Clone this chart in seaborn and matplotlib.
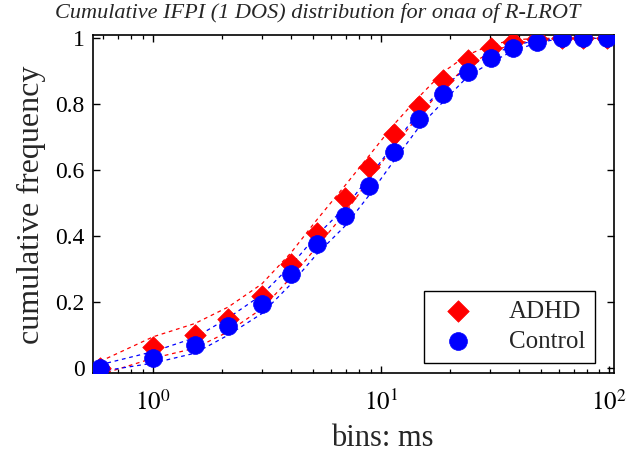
import numpy as np
import pandas as pd
import matplotlib
matplotlib.use("Agg")
import matplotlib.pyplot as plt
from matplotlib.ticker import LogLocator, NullFormatter, FixedLocator
import seaborn as sns

# Bin centres (ms) and cumulative frequencies per group
bins_ms = [0.584, 1.0, 1.52, 2.13, 2.99, 4.02, 5.22, 6.96, 8.86, 11.4,
           14.6, 18.7, 23.9, 30.4, 37.9, 48.1, 61.8, 76.7, 97.5]

adhd_mean = [0.0, 0.065, 0.100, 0.150, 0.220, 0.315, 0.410, 0.515, 0.610, 0.710,
             0.795, 0.875, 0.935, 0.970, 0.990, 0.998, 1.0, 1.0, 1.0]
adhd_upper = [0.020, 0.095, 0.135, 0.185, 0.255, 0.350, 0.450, 0.555, 0.645, 0.740,
              0.822, 0.898, 0.950, 0.980, 0.995, 1.0, 1.0, 1.0, 1.0]
adhd_lower = [-0.020, 0.030, 0.060, 0.110, 0.180, 0.275, 0.368, 0.472, 0.572, 0.675,
              0.765, 0.850, 0.918, 0.958, 0.984, 0.995, 1.0, 1.0, 1.0]

control_mean = [0.0, 0.031, 0.070, 0.127, 0.194, 0.285, 0.376, 0.461, 0.552, 0.655,
                0.754, 0.830, 0.899, 0.939, 0.970, 0.990, 1.0, 1.0, 1.0]
control_upper = [0.010, 0.050, 0.092, 0.152, 0.222, 0.312, 0.403, 0.488, 0.580, 0.680,
                 0.776, 0.850, 0.913, 0.950, 0.978, 0.994, 1.0, 1.0, 1.0]
control_lower = [-0.010, 0.015, 0.045, 0.100, 0.165, 0.255, 0.346, 0.432, 0.525, 0.630,
                 0.730, 0.808, 0.884, 0.928, 0.962, 0.986, 1.0, 1.0, 1.0]

groups = ["ADHD", "Control"]
colors = {"ADHD": "#ff0000", "Control": "#0000ff"}
markers = {"ADHD": "D", "Control": "o"}

title_text = "Cumulative IFPI (1 DOS) distribution for onaa of R-LROT"
x_label = "bins: ms"
y_label = "cumulative frequency"

means = pd.DataFrame({
    "bin": bins_ms * 2,
    "freq": adhd_mean + control_mean,
    "group": ["ADHD"] * len(bins_ms) + ["Control"] * len(bins_ms),
})
bounds = pd.DataFrame({
    "bin": bins_ms * 4,
    "freq": adhd_upper + adhd_lower + control_upper + control_lower,
    "curve": (["ADHD upper"] * len(bins_ms) + ["ADHD lower"] * len(bins_ms)
              + ["Control upper"] * len(bins_ms) + ["Control lower"] * len(bins_ms)),
})

sns.set_style("ticks")
plt.rcParams["font.family"] = ["Liberation Serif", "DejaVu Serif"]
plt.rcParams["mathtext.fontset"] = "stix"

fig = plt.figure(figsize=(6.26, 4.55), dpi=100)
ax = fig.add_axes([0.1486, 0.1802, 0.8325, 0.7428])

# dashed bound curves
for curve, sub in bounds.groupby("curve", sort=False):
    g = curve.split()[0]
    sns.lineplot(data=sub, x="bin", y="freq", ax=ax, color=colors[g],
                 linewidth=0.9, legend=False, zorder=2,
                 sort=False, estimator=None)
for line in ax.get_lines():
    line.set_dashes((3, 3))

# group markers, Control drawn on top
handles = {}
for g in groups:
    sub = means[means["group"] == g]
    size = 120 if g == "ADHD" else 165
    sns.scatterplot(data=sub, x="bin", y="freq", ax=ax, color=colors[g],
                    marker=markers[g], s=size, edgecolor=colors[g],
                    linewidth=0.5, legend=False, zorder=3)
    handles[g] = ax.collections[-1]

ax.set_xscale("log")
ax.set_xlim(0.544, 105)
ax.set_ylim(-0.015, 1.01)
ax.xaxis.set_major_locator(FixedLocator([1, 10, 100]))
ax.set_xticklabels([r"$10^{0}$", r"$10^{1}$", r"$10^{2}$"])
ax.xaxis.set_minor_locator(LogLocator(base=10, subs=np.arange(2, 10), numticks=20))
ax.xaxis.set_minor_formatter(NullFormatter())
ax.set_yticks([0, 0.2, 0.4, 0.6, 0.8, 1.0])
ax.set_yticklabels(["0", "0.2", "0.4", "0.6", "0.8", "1"])

for s in ax.spines.values():
    s.set_visible(True)
    s.set_color("black")
    s.set_linewidth(1.2)
ax.tick_params(axis="both", which="both", direction="in", top=True, right=True,
               colors="black")
ax.tick_params(axis="both", which="major", length=5, width=1.0)
ax.tick_params(axis="x", which="minor", length=3, width=0.9)
ax.tick_params(axis="y", labelsize=17, pad=6)
ax.tick_params(axis="x", labelsize=18, pad=12)

ax.set_xlabel(x_label, fontsize=22, va="baseline")
ax.xaxis.set_label_coords(0.555, -0.216)
ax.set_ylabel(y_label, fontsize=23, va="center")
ax.yaxis.set_label_coords(-0.119, 0.497)
fig.text(0.507, 0.972, title_text, ha="center", va="center",
         fontsize=16, style="italic")

leg = ax.legend([handles["ADHD"], handles["Control"]], groups,
                loc="lower right", fontsize=18, frameon=True, fancybox=False,
                edgecolor="black", framealpha=1, handletextpad=1.1,
                borderaxespad=0.4, borderpad=0.4, labelspacing=0.3,
                handlelength=1.9, bbox_to_anchor=(0.983, 0.0))
leg.get_frame().set_linewidth(1.0)

fig.savefig("out.png", dpi=100)
